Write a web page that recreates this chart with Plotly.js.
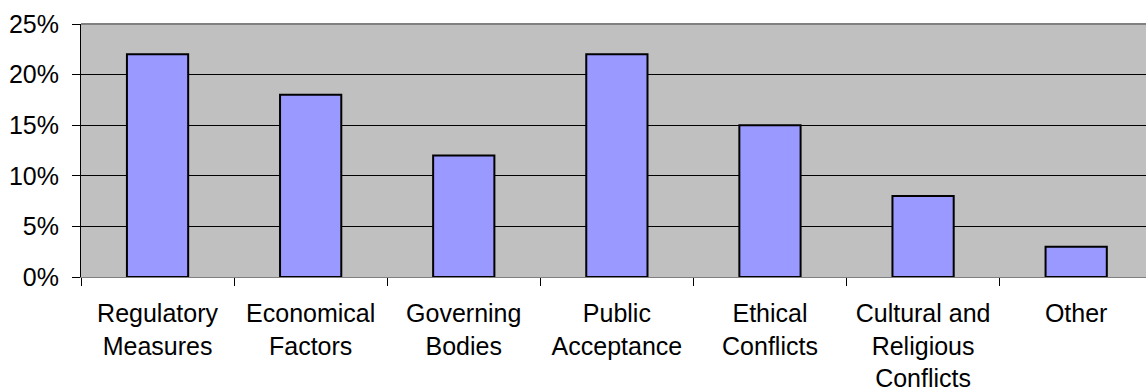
<!DOCTYPE html>
<html>
<head>
<meta charset="utf-8">
<script src="https://cdn.plot.ly/plotly-3.0.1.min.js"></script>
<style>html,body{margin:0;padding:0;background:#fff;}#chart{width:1146px;height:392px;}</style>
</head>
<body>
<div id="chart"></div>
<script>
var categories = ["Regulatory<br>Measures", "Economical<br>Factors", "Governing<br>Bodies", "Public<br>Acceptance", "Ethical<br>Conflicts", "Cultural and<br>Religious<br>Conflicts", "Other"];
var values = [0.22, 0.18, 0.12, 0.22, 0.15, 0.08, 0.03];
var yTickVals = [0, 0.05, 0.10, 0.15, 0.20, 0.25];
var yTickText = ["0%", "5%", "10%", "15%", "20%", "25%"];

var trace = {
  type: "bar",
  x: categories,
  y: values,
  width: 0.4,
  marker: {color: "#9999FF", line: {color: "#000000", width: 2}},
  hoverinfo: "none"
};

var layout = {
  width: 1146,
  height: 392,
  margin: {l: 81, r: 0, t: 24, b: 115, pad: 0},
  paper_bgcolor: "#ffffff",
  plot_bgcolor: "#C0C0C0",
  showlegend: false,
  font: {family: "Liberation Sans, Arial, sans-serif", size: 25, color: "#000000"},
  xaxis: {
    type: "category",
    range: [-0.5, 6.456],
    tickson: "boundaries",
    ticks: "outside",
    ticklen: 8,
    tickcolor: "#000000",
    tickwidth: 1,
    showgrid: false,
    showline: true,
    linecolor: "#808080",
    linewidth: 1,
    tickfont: {size: 25, color: "#000000"},
    ticklabelstandoff: 14,
    zeroline: false,
    fixedrange: true
  },
  yaxis: {
    range: [0, 0.25],
    tickvals: yTickVals,
    ticktext: yTickText,
    ticks: "outside",
    ticklen: 8,
    tickcolor: "#000000",
    showgrid: true,
    gridcolor: "#000000",
    gridwidth: 1,
    showline: true,
    linecolor: "#000000",
    linewidth: 1,
    zeroline: false,
    tickfont: {size: 25, color: "#000000"},
    ticklabelstandoff: 8,
    fixedrange: true
  },
  shapes: [{
    type: "line", xref: "paper", yref: "paper", x0: 0, x1: 1, y0: 1, y1: 1,
    line: {color: "#808080", width: 2}
  }]
};

Plotly.newPlot("chart", [trace], layout, {staticPlot: true, displayModeBar: false});
</script>
</body>
</html>
